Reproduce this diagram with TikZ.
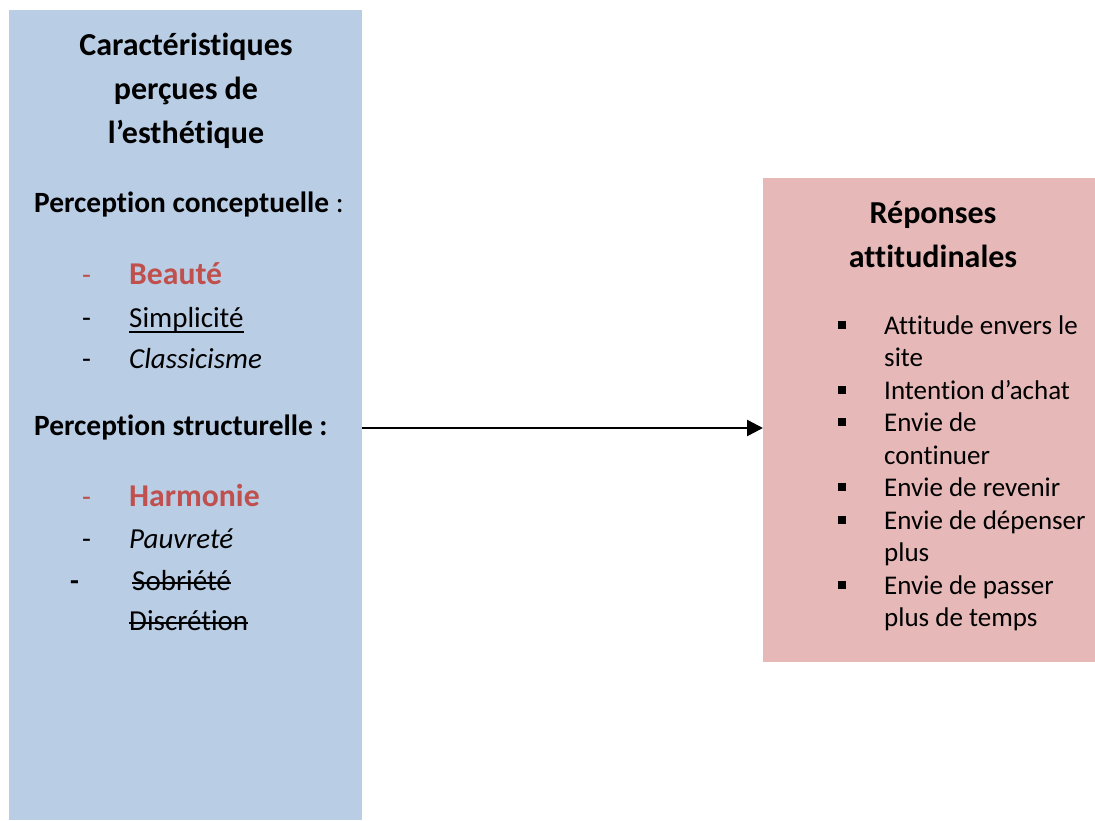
\documentclass[tikz,border=0pt]{standalone}
\usepackage{fontspec}
\setmainfont{Carlito}[Ligatures=CommonOff]
\usepackage{tikz}
\usetikzlibrary{arrows.meta, positioning}
\definecolor{aestheticblue}{RGB}{185,205,229}
\definecolor{responsepink}{RGB}{230,185,184}
\definecolor{highlightred}{RGB}{192,80,77}

\tikzset{
  panel/.style={inner sep=0pt, outer sep=0pt, anchor=north west},
  heading/.style={anchor=base, inner sep=0pt, font=\fontsize{32}{38}\selectfont\bfseries},
  subheading/.style={anchor=base west, inner sep=0pt, font=\fontsize{29.4}{35}\selectfont\bfseries},
  item/.style={anchor=base west, inner sep=0pt, font=\fontsize{27}{32}\selectfont},
  leftitem/.style={item, font=\fontsize{29}{35}\selectfont},
  keyitem/.style={item, font=\fontsize{31.7}{38}\selectfont\bfseries, text=highlightred},
  squarebullet/.style={fill=black, minimum size=8pt, inner sep=0pt},
  textrule/.style={line width=1.8pt},
  flow/.style={-{Triangle[length=16pt,width=16pt]}, line width=2.5pt}
}

\begin{document}
\begin{tikzpicture}[x=1pt, y=-1pt]
  \useasboundingbox (0,0) rectangle (1095,820);

  % the two panels
  \node[panel, fill=aestheticblue, minimum width=353pt, minimum height=810pt] (aesthetics) at (9,10) {};
  \node[panel, fill=responsepink, minimum width=332pt, minimum height=484pt] (responses) at (763,178) {};

  % left panel
  \node[heading] (aesthtitle1) at (186,55) {Caractéristiques};
  \node[heading] (aesthtitle2) at (186,99) {perçues de};
  \node[heading] (aesthtitle3) at (186,143) {l’esthétique};
  \node[subheading] (perconcept) at (34,212) {Perception conceptuelle \mdseries:};
  \node[leftitem, text=highlightred] (dashbeaute) at (82,284) {-};
  \node[keyitem] (beaute) at (129,284) {Beauté};
  \node[leftitem] (dashsimpl) at (82,327) {-};
  \node[leftitem] (simplicite) at (129,327) {Simplicité};
  \node[leftitem] (dashclass) at (82,368) {-};
  \node[leftitem] (classicisme) at (129,368) {\itshape Classicisme};
  \node[subheading] (perstruct) at (34,435) {Perception structurelle :};
  \node[leftitem, text=highlightred] (dashharm) at (82,506) {-};
  \node[keyitem] (harmonie) at (129,506) {Harmonie};
  \node[leftitem] (dashpauv) at (82,548) {-};
  \node[leftitem] (pauvrete) at (129,548) {\itshape Pauvreté};
  \node[leftitem] (dashsobr) at (70,590) {\bfseries -};
  \node[leftitem] (sobriete) at (132,590) {Sobriété};
  \node[leftitem] (discretion) at (129,630) {Discrétion};

  % underline and strike-outs
  \draw[textrule] ([yshift=-5pt]simplicite.base west) -- ([yshift=-5pt]simplicite.base east);
  \draw[textrule] ([yshift=7pt]sobriete.base west) -- ([yshift=7pt]sobriete.base east);
  \draw[textrule] ([yshift=7pt]discretion.base west) -- ([yshift=7pt]discretion.base east);

  % right panel
  \node[heading] (resptitle1) at (933,223) {Réponses};
  \node[heading] (resptitle2) at (933,267) {attitudinales};
  \foreach \y/\name in {324.5/b1, 389.5/b2, 422/b3, 487/b4, 519.5/b5, 584.5/b6}
    \node[squarebullet] (\name) at (842,\y) {};
  \node[item] (attitude) at (884,334) {Attitude envers le};
  \node[item] (site) at (884,366.5) {site};
  \node[item] (intention) at (884,399) {Intention d’achat};
  \node[item] (continuer1) at (884,431.5) {Envie de};
  \node[item] (continuer2) at (884,464) {continuer};
  \node[item] (revenir) at (884,496.5) {Envie de revenir};
  \node[item] (depenser1) at (884,529) {Envie de dépenser};
  \node[item] (depenser2) at (884,561.5) {plus};
  \node[item] (passer1) at (884,594) {Envie de passer};
  \node[item] (passer2) at (884,626.5) {plus de temps};

  \coordinate (flowlevel) at (0,428);
  \draw[flow] (aesthetics.east |- flowlevel) -- (responses.west |- flowlevel);
\end{tikzpicture}
\end{document}
